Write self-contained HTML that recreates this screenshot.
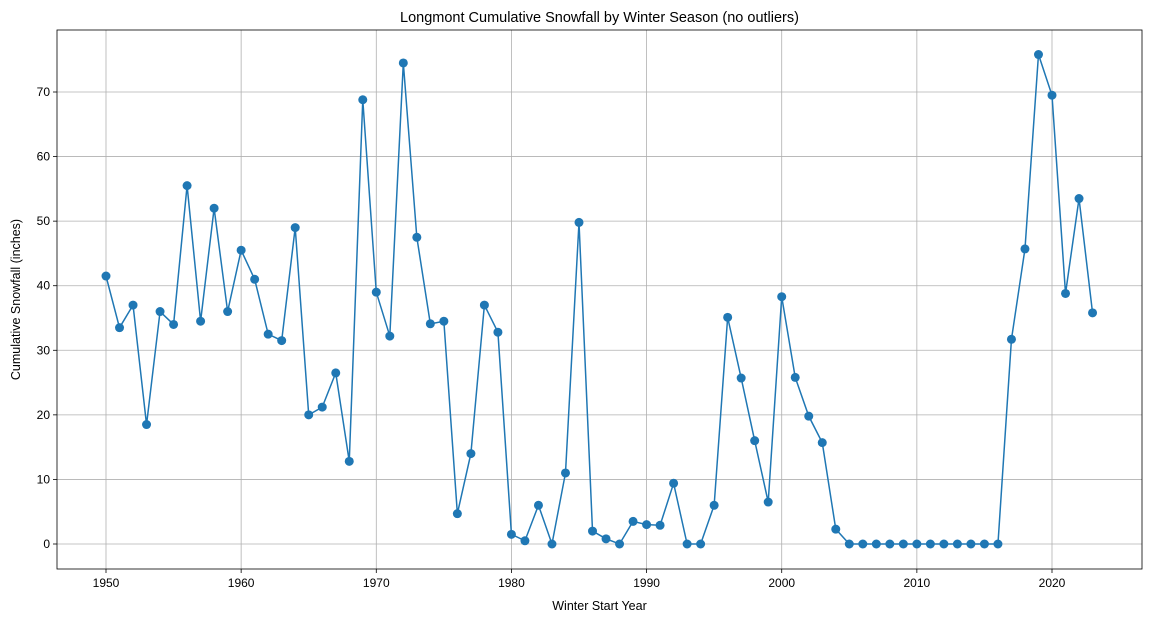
<!DOCTYPE html>
<html><head><meta charset="utf-8"><style>
body{margin:0;background:#fff;}
svg{display:block;font-family:"Liberation Sans","DejaVu Sans",sans-serif;}
</style></head><body>
<svg id="c" width="1152" height="622"></svg>
<script>
const years = [];
for (let y = 1950; y <= 2023; y++) years.push(y);
const snowfall = [41.5,33.5,37,18.5,36,34,55.5,34.5,52,36,45.5,41,32.5,31.5,49,20,21.2,26.5,12.8,68.8,39,32.2,74.5,47.5,34.1,34.5,4.7,14,37,32.8,1.5,0.5,6,0,11,49.8,2,0.8,0,3.5,3,2.9,9.4,0,0,6,35.1,25.7,16,6.5,38.3,25.8,19.8,15.7,2.3,0,0,0,0,0,0,0,0,0,0,0,0,31.7,45.7,75.8,69.5,38.8,53.5,35.8];
const xTicks = [1950,1960,1970,1980,1990,2000,2010,2020];
const yTicks = [0,10,20,30,40,50,60,70];

const NS = "http://www.w3.org/2000/svg";
const svg = document.getElementById('c');
const L=57,R=1142,T=30,B=569;
const xs = v => 106 + (v-1950)*(1052-106)/70;
const ys = v => 544 - v*(544-92)/70;
function mk(tag, attrs, parent){const e=document.createElementNS(NS,tag);for(const k in attrs)e.setAttribute(k,attrs[k]);(parent||svg).appendChild(e);return e;}

const grid = mk('g',{});


xTicks.forEach(t=>{
  mk('line',{x1:xs(t),x2:xs(t),y1:T,y2:B,stroke:'#b0b0b0','stroke-width':0.8},grid);
  mk('line',{x1:xs(t),x2:xs(t),y1:B,y2:B+4,stroke:'#000','stroke-width':0.8});
  const tx=mk('text',{x:xs(t),y:B+18,'text-anchor':'middle','font-size':12});
  tx.textContent=t;
  
  
});
yTicks.forEach(t=>{
  mk('line',{x1:L,x2:R,y1:ys(t),y2:ys(t),stroke:'#b0b0b0','stroke-width':0.8},grid);
  mk('line',{x1:L-4,x2:L,y1:ys(t),y2:ys(t),stroke:'#000','stroke-width':0.8});
  const tx=mk('text',{x:L-7,y:ys(t)+4,'text-anchor':'end','font-size':12});
  tx.textContent=t;
  
  
});
const frame=mk('rect',{x:L,y:T,width:R-L,height:B-T,fill:'none',stroke:'#000','stroke-width':0.8});



const line=mk('polyline',{points:years.map((y,i)=>xs(y)+','+ys(snowfall[i])).join(' '),fill:'none',stroke:'#1f77b4','stroke-width':1.5});


years.forEach((y,i)=>{
  const c=mk('circle',{cx:xs(y),cy:ys(snowfall[i]),r:4.5,fill:'#1f77b4'});
  
  
});

const title=mk('text',{x:(L+R)/2,y:22,'text-anchor':'middle','font-size':14.5});
title.textContent='Longmont Cumulative Snowfall by Winter Season (no outliers)';


const xt=mk('text',{x:(L+R)/2,y:610,'text-anchor':'middle','font-size':12.5});
xt.textContent='Winter Start Year';


const yt=mk('text',{x:0,y:0,'text-anchor':'middle','font-size':12.5,transform:'translate(20,'+((T+B)/2)+') rotate(-90)'});
yt.textContent='Cumulative Snowfall (inches)';


</script>
</body></html>
